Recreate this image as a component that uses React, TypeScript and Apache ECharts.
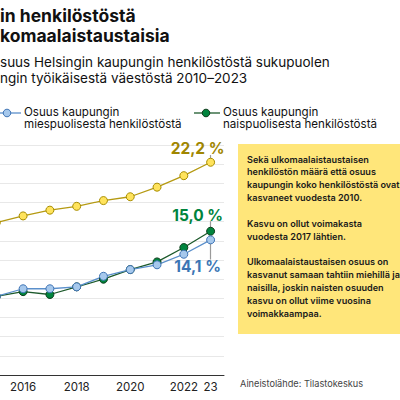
import React, { useEffect, useRef } from "react";
import * as echarts from "echarts";

const years = ["2010", "2011", "2012", "2013", "2014", "2015", "2016", "2017", "2018", "2019", "2020", "2021", "2022", "2023"];
const populationShare = [12.6, 13.3, 13.9, 14.5, 15.2, 15.9, 16.6, 17.2, 17.6, 18.2, 18.6, 19.6, 20.8, 22.2];
const menShare = [6.4, 6.8, 7.2, 7.5, 7.9, 8.2, 9.0, 9.0, 9.2, 10.3, 11.0, 11.5, 12.6, 14.1];
const womenShare = [6.2, 6.6, 7.0, 7.4, 7.8, 8.2, 8.7, 8.4, 9.2, 10.0, 11.0, 11.8, 13.3, 15.0];

// Each heading line is split where the window's left edge cuts it: [hidden part, visible part]
const titleLines = [
  ["Yhä useampi kaupung", "in henkilöstöstä"],
  ["on ul", "komaalaistaustaisia"],
];
const subtitleLines = [
  ["Ulkomaalaistaustaisten o", "suus Helsingin kaupungin henkilöstöstä sukupuolen"],
  ["mukaan ja osuus kaupu", "ngin työikäisestä väestöstä 2010–2023"],
];
const legendPopulation = "Osuus kaupungin\ntyöikäisestä väestöstä";
const legendMen = "Osuus kaupungin\nmiespuolisesta henkilöstöstä";
const legendWomen = "Osuus kaupungin\nnaispuolisesta henkilöstöstä";
const boxText = [
  "Sekä ulkomaalaistaustaisen",
  "henkilöstön määrä että osuus",
  "kaupungin koko henkilöstöstä ovat",
  "kasvaneet vuodesta 2010.",
  "",
  "Kasvu on ollut voimakasta",
  "vuodesta 2017 lähtien.",
  "",
  "Ulkomaalaistaustaisen osuus on",
  "kasvanut samaan tahtiin miehillä ja",
  "naisilla, joskin naisten osuuden",
  "kasvu on ollut viime vuosina",
  "voimakkaampaa.",
];
const sourceText = "Aineistolähde: Tilastokeskus";

const FONT = "Inter";
const OX = 160; // chart canvas extends this far beyond the left edge of the window
const YELLOW = { line: "#b59a12", fill: "#ffe35c", border: "#a88d00", label: "#a08600" };
const BLUE = { line: "#5a8fcb", fill: "#a6c8ec", border: "#3f74b5", label: "#3b75b4" };
const GREEN = { line: "#1d5a2c", fill: "#00843d", border: "#0d3d1b", label: "#00843d" };

const fmt = (v: number) => v.toFixed(1).replace(".", ",") + " %";

function makeSeries(name: string, data: number[], c: any, labelPos: string, dist: number, leaderTo: number) {
  const last = data.length - 1;
  return {
    name,
    type: "line",
    data: data.map((v, i) =>
      i === last
        ? {
            value: v,
            label: {
              show: true,
              position: labelPos,
              distance: dist,
              offset: [-13, 0],
              formatter: () => fmt(v),
              color: c.label,
              fontFamily: FONT,
              fontWeight: 700,
              fontSize: 15.5,
            },
          }
        : v
    ),
    symbol: "circle",
    symbolSize: 8,
    showAllSymbol: true,
    lineStyle: { color: c.line, width: 1.3 },
    itemStyle: { color: c.fill, borderColor: c.border, borderWidth: 1 },
    z: 3,
    markLine: {
      silent: true,
      symbol: "none",
      label: { show: false },
      lineStyle: { color: "#9a9a9a", width: 1.2, type: "solid" },
      data: [[{ coord: [years[last], data[last]] }, { coord: [years[last], leaderTo] }]],
      z: 1,
    },
  };
}

export default function App() {
  const ref = useRef<HTMLDivElement>(null);
  useEffect(() => {
    if (!ref.current) return;
    const chart = echarts.init(ref.current, undefined, { renderer: "svg" });
    const legendItem = (x: number, c: any, text: string) => [
      { type: "line", shape: { x1: OX + x - 12, y1: 113, x2: OX + x + 14, y2: 113 }, style: { stroke: c.line, lineWidth: 1.3 } },
      { type: "circle", shape: { cx: OX + x, cy: 113, r: 3.8 }, style: { fill: c.fill, stroke: c.border, lineWidth: 1 } },
      {
        type: "text",
        x: OX + x + 17,
        y: 105.5,
        style: { text, fontFamily: FONT, fontSize: 11.6, lineHeight: 12.6, fill: "#111", verticalAlign: "top", align: "left" },
      },
    ];
    const splitText = (parts: string[], y: number, size: number, weight: number) => [
      {
        type: "text",
        x: OX,
        y,
        style: { text: parts[0], fontFamily: FONT, fontWeight: weight, fontSize: size, fill: "#111", align: "right", verticalAlign: "middle" },
      },
      {
        type: "text",
        x: OX,
        y,
        style: { text: parts[1], fontFamily: FONT, fontWeight: weight, fontSize: size, fill: "#111", align: "left", verticalAlign: "middle" },
      },
    ];
    chart.setOption({
      animation: false,
      backgroundColor: "#ffffff",
      grid: { left: OX - 151, right: 560 - OX - 224, top: 145, bottom: 25, containLabel: false },
      xAxis: {
        type: "category",
        data: years,
        boundaryGap: true,
        axisLine: { lineStyle: { color: "#333", width: 1 } },
        axisTick: { show: false },
        axisLabel: {
          interval: (i: number) => i % 2 === 0 || i === years.length - 1,
          formatter: (v: string) => (v === "2023" ? "23" : v),
          color: "#222",
          fontFamily: FONT,
          fontSize: 11.5,
          margin: 6,
        },
      },
      yAxis: {
        type: "value",
        min: 0,
        max: 24,
        interval: 2,
        axisLabel: { show: false },
        axisLine: { show: false },
        axisTick: { show: false },
        splitLine: { lineStyle: { color: "#e8e8e8", width: 1 } },
      },
      series: [
        makeSeries("Osuus kaupungin työikäisestä väestöstä", populationShare, YELLOW, "top", 1, 22.95),
        makeSeries("Osuus kaupungin naispuolisesta henkilöstöstä", womenShare, GREEN, "top", 3, 16.05),
        makeSeries("Osuus kaupungin miespuolisesta henkilöstöstä", menShare, BLUE, "bottom", 14, 12.05),
      ],
      graphic: [
        ...splitText(titleLines[0], 15, 17.5, 700),
        ...splitText(titleLines[1], 35, 17.5, 700),
        ...splitText(subtitleLines[0], 62, 13.5, 400),
        ...splitText(subtitleLines[1], 78, 13.5, 400),
        ...legendItem(-150, YELLOW, legendPopulation),
        ...legendItem(7, BLUE, legendMen),
        ...legendItem(206, GREEN, legendWomen),
        {
          type: "rect",
          shape: { x: OX + 238, y: 144, width: 180, height: 190 },
          style: { fill: "#ffe67a" },
          z: 0,
        },
        {
          type: "text",
          x: OX + 247,
          y: 152.6,
          style: {
            text: boxText.join("\n"),
            fontFamily: FONT,
            fontWeight: 600,
            fontSize: 9.1,
            lineHeight: 12.85,
            fill: "#1a1a1a",
            align: "left",
            verticalAlign: "top",
          },
          z: 1,
        },
        {
          type: "text",
          x: OX + 240,
          y: 383,
          style: { text: sourceText, fontFamily: FONT, fontSize: 9.2, fill: "#444", align: "left", verticalAlign: "middle" },
        },
      ],
    });
    return () => chart.dispose();
  }, []);
  return <div ref={ref} style={{ position: "fixed", left: -OX, top: 0, width: 560, height: 400 }} />;
}
